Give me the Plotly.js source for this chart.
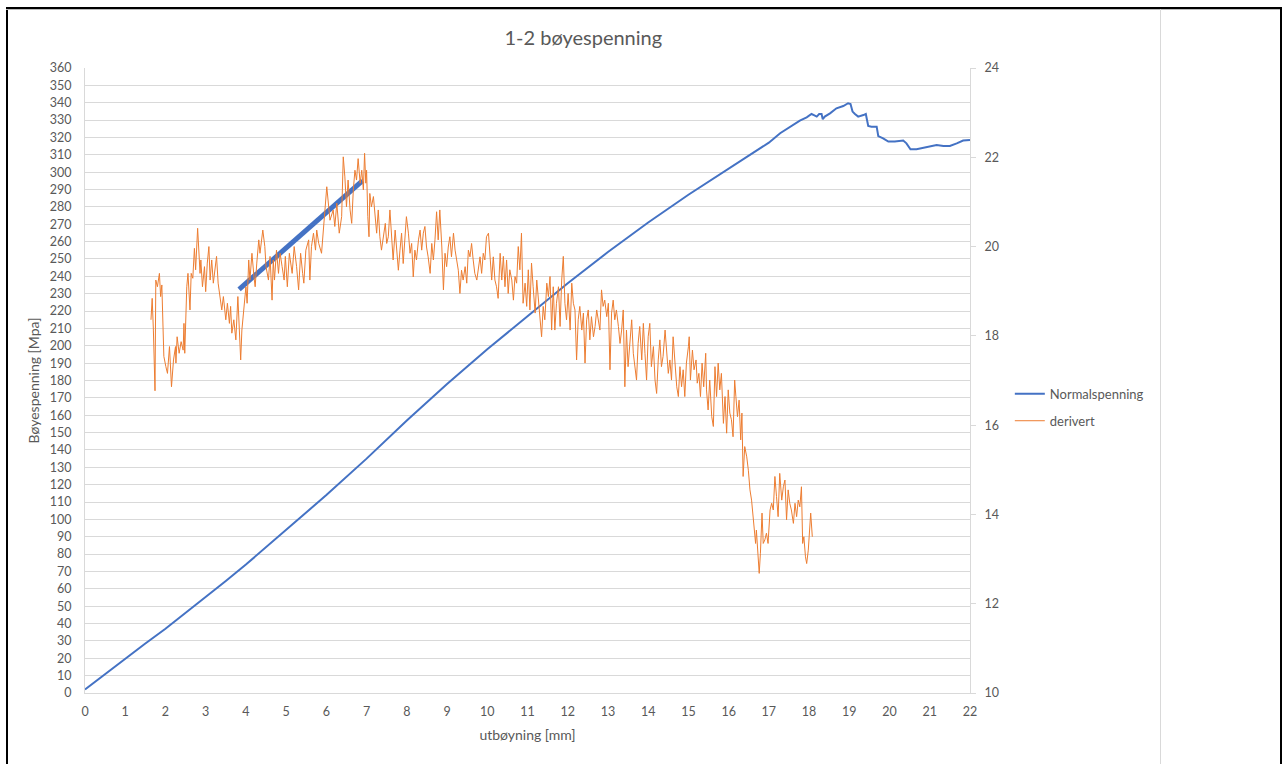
<!DOCTYPE html>
<html>
<head>
<meta charset="utf-8">
<script src="https://cdn.plot.ly/plotly-3.0.1.min.js"></script>
<style>
  html, body { margin:0; padding:0; background:#fff; }
  #wrap { position:relative; width:1282px; height:764px; overflow:hidden; }
  #chart { position:absolute; left:0; top:0; width:1282px; height:764px; }
  .ln { position:absolute; }
</style>
</head>
<body>
<div id="wrap">
  <div id="chart"></div>
  <div class="ln" style="left:6px; top:7px; width:2px; height:757px; background:#000;"></div>
  <div class="ln" style="left:6px; top:7px; width:1276px; height:2px; background:#000;"></div>
  <div class="ln" style="left:6px; top:9px; width:1276px; height:1px; background:#bbb;"></div>
  <div class="ln" style="left:1160px; top:9px; width:1px; height:755px; background:#d9d9d9;"></div>
  <div class="ln" style="left:1280px; top:7px; width:2px; height:757px; background:#000;"></div>
</div>
<script>
// Normalspenning (left axis, MPa) vs utbøyning (mm)
const normX = [0,0.5,1,1.5,2,2.5,3,3.5,4,5,6,7,8,9,10,11,12,13,14,15,16,17,17.28,17.52,17.77,17.94,18.06,18.12,18.19,18.25,18.31,18.34,18.39,18.52,18.68,18.85,18.97,19.03,19.08,19.14,19.22,19.35,19.41,19.47,19.55,19.68,19.72,19.84,19.97,20.13,20.34,20.42,20.52,20.67,20.84,21.00,21.17,21.34,21.50,21.67,21.83,22.00];
const normY = [2,11,20,28.5,37,46,55,64.5,74,94,114,135,157,178,198,217,236,254,271,287,302,317,322.4,325.8,329.7,331.6,333.5,332.8,332,333.5,333.5,330.5,332,333.9,336.8,338.1,339.7,339.3,334.9,333.5,332,332.9,333.5,326.6,326.2,326.2,320.8,319.5,317.6,317.6,318.2,316.6,313.2,313.2,313.9,314.7,315.7,315.1,315.1,316.6,318.2,318.6];

// derivert (right axis)
const derivX = [1.64,1.67,1.70,1.74,1.76,1.80,1.85,1.88,1.91,1.93,1.96,2.01,2.05,2.10,2.15,2.20,2.25,2.26,2.29,2.34,2.39,2.44,2.46,2.48,2.53,2.56,2.61,2.64,2.68,2.72,2.75,2.80,2.83,2.86,2.88,2.92,2.97,3.00,3.04,3.08,3.11,3.15,3.19,3.23,3.27,3.31,3.36,3.40,3.44,3.50,3.54,3.59,3.62,3.65,3.70,3.75,3.80,3.87,3.90,3.95,4.00,4.03,4.07,4.10,4.15,4.20,4.23,4.27,4.32,4.35,4.42,4.47,4.50,4.56,4.60,4.65,4.68,4.71,4.76,4.81,4.85,4.90,4.95,4.98,5.03,5.08,5.15,5.20,5.26,5.31,5.36,5.41,5.44,5.49,5.56,5.59,5.63,5.68,5.73,5.76,5.81,
5.88,6.01,6.09,6.17,6.21,6.26,6.32,6.38,6.42,6.46,6.50,6.54,6.59,6.63,6.67,6.71,6.75,6.79,6.84,6.88,6.92,6.95,6.98,7.00,7.03,7.06,7.08,7.12,7.17,7.21,7.25,7.29,7.33,7.37,7.42,7.465,7.50,7.54,7.58,7.62,7.66,7.71,7.75,7.79,7.83,7.87,7.91,7.95,7.99,8.04,8.08,8.12,8.16,8.20,8.24,8.29,8.33,8.37,8.41,8.45,8.49,8.53,8.58,8.62,8.66,8.70,8.74,8.78,8.82,8.87,8.91,8.95,8.99,9.03,9.07,9.11,9.16,9.20,9.24,9.28,9.32,9.36,9.40,9.45,9.49,9.53,9.57,9.61,9.65,9.69,9.74,9.78,9.82,9.86,9.90,9.94,9.98,10.03,10.07,10.11,10.15,10.19,10.23,10.27,
10.32,10.36,10.40,10.44,10.48,10.52,10.56,10.61,10.65,10.69,10.73,10.77,10.81,10.85,10.89,10.94,10.98,11.02,11.06,11.10,11.14,11.19,11.23,11.27,11.31,11.35,11.39,11.43,11.48,11.52,11.56,11.60,11.64,11.68,11.72,11.77,11.81,11.85,11.89,11.93,11.97,12.01,12.06,12.10,12.14,12.18,12.22,12.26,12.30,12.35,12.39,12.43,12.47,12.51,12.55,12.59,12.64,12.68,12.72,12.76,12.80,12.84,12.88,12.92,12.97,13.01,13.05,13.09,13.13,13.17,13.21,13.26,13.30,13.34,13.38,13.42,13.46,13.50,13.55,13.59,13.63,13.67,13.71,13.75,13.79,13.84,13.88,13.92,13.96,14.00,14.04,14.08,14.13,14.17,14.21,14.25,14.29,14.33,14.37,14.42,14.46,14.50,14.54,14.58,14.62,14.66,14.71,14.75,
14.79,14.83,14.87,14.91,14.95,15.00,15.02,15.05,15.10,15.14,15.19,15.22,15.26,15.30,15.34,15.38,15.43,15.45,15.49,15.53,15.58,15.62,15.66,15.70,15.74,15.78,15.82,15.87,15.91,15.95,15.99,16.03,16.07,16.11,16.15,16.18,16.22,16.26,16.30,16.33,16.36,16.40,16.45,16.49,16.53,16.57,16.61,16.64,16.67,16.69,16.74,16.76,16.79,16.83,16.86,16.90,16.94,16.98,17.03,17.07,17.11,17.15,17.19,17.23,17.27,17.32,17.36,17.40,17.44,17.48,17.52,17.56,17.61,17.65,17.69,17.73,17.77,17.81,17.84,17.87,17.91,17.94,17.98,18.02,18.04,18.08];
const derivY = [18.36,18.84,18.13,16.77,19.25,19.10,19.40,18.88,19.14,18.21,17.54,17.31,17.16,17.76,16.86,17.46,17.76,17.39,17.98,17.61,17.87,17.68,18.28,17.61,19.10,19.40,18.58,19.40,19.29,19.96,19.48,20.41,19.85,19.40,19.70,19.10,19.55,18.99,19.63,20.00,19.25,19.70,19.18,19.55,19.78,19.18,18.80,18.58,18.88,18.36,18.73,18.28,18.66,18.06,18.36,17.91,18.88,17.46,18.13,18.58,19.10,18.73,19.70,19.25,19.85,19.33,19.10,19.63,20.15,19.85,20.37,20.00,19.55,19.25,19.78,18.80,19.70,19.25,19.92,19.40,19.85,19.55,19.25,19.78,19.10,19.85,19.40,20.00,19.55,19.03,19.85,19.40,19.18,19.92,20.15,19.25,20.00,20.30,19.92,20.37,20.07,
19.85,21.34,20.59,20.82,20.45,20.97,20.30,20.67,22.01,21.56,20.89,21.49,20.82,20.52,21.27,21.71,21.49,21.97,21.42,21.71,21.27,22.09,21.42,21.71,20.67,20.22,21.19,20.89,21.12,20.67,20.30,20.82,20.22,19.92,20.30,20.52,20.07,20.22,20.82,20.15,19.70,20.37,19.92,19.47,19.92,20.30,19.62,20.15,20.67,20.30,19.85,20.07,19.32,19.92,19.70,20.15,20.37,19.92,20.30,20.45,19.99,19.77,19.40,20.07,19.70,20.15,20.78,20.15,20.82,19.99,19.03,19.85,19.55,19.99,20.22,19.77,20.30,19.92,19.70,19.47,18.95,19.47,19.25,19.55,19.18,19.92,19.77,20.07,19.70,19.40,19.25,19.55,19.77,19.40,19.85,19.70,20.22,20.30,19.70,19.25,19.77,19.25,19.10,18.84,
19.85,19.25,19.78,19.10,19.70,18.95,19.48,19.25,18.80,19.33,19.18,20.00,19.48,20.30,18.73,19.18,18.66,19.48,18.58,19.63,19.10,18.51,19.25,18.80,18.36,17.98,18.66,18.36,19.18,18.88,19.33,18.13,19.10,18.13,18.73,19.10,18.21,19.25,19.78,18.73,18.36,18.95,18.13,19.18,18.73,18.58,17.46,18.36,18.66,18.13,18.51,17.39,18.36,18.58,17.91,18.43,17.98,18.21,18.58,18.36,18.13,19.03,18.66,18.80,18.43,18.73,17.24,18.51,18.80,18.36,18.58,18.21,17.83,18.13,18.58,16.86,18.13,17.31,17.91,18.36,17.61,17.24,17.01,17.83,18.21,17.46,18.28,17.61,17.01,17.98,18.28,17.31,17.76,17.01,16.71,17.46,17.91,17.31,17.54,18.13,17.61,17.16,17.46,17.01,17.98,17.46,16.86,16.64,
17.31,16.86,17.24,16.64,17.39,17.76,17.98,17.01,17.68,17.24,17.46,16.94,17.16,16.64,17.39,16.86,17.61,16.79,16.34,17.01,16.19,15.97,17.31,16.64,17.39,16.79,17.16,16.04,16.64,15.82,16.79,16.27,16.12,15.74,17.01,16.64,16.19,16.56,15.67,16.27,14.85,15.52,15.29,14.99,14.55,14.32,13.88,13.65,13.35,13.65,12.90,12.68,13.13,14.03,13.35,13.43,13.58,13.35,14.10,14.25,14.10,14.85,14.40,13.95,14.92,14.32,14.62,14.77,13.88,14.55,14.25,14.10,13.80,14.25,13.95,14.32,14.17,14.62,13.35,13.50,13.05,12.90,13.20,13.80,14.03,13.50];

// Drawn trend line (left axis units)
const trendX = [3.83, 6.90];
const trendY = [232.5, 295.1];

const FONT = "Lato, 'Open Sans', 'DejaVu Sans', sans-serif";
const GRAY = "#595959";

const traces = [
  {x: normX, y: normY, type: 'scatter', mode: 'lines', name: 'Normalspenning',
   line: {color: '#4472C4', width: 2}, yaxis: 'y', legendgroup: 'a'},
  {x: derivX, y: derivY, type: 'scatter', mode: 'lines', name: 'derivert',
   line: {color: '#ED7D31', width: 1}, yaxis: 'y2', legendgroup: 'b'},
  {x: trendX, y: trendY, type: 'scatter', mode: 'lines', showlegend: false,
   line: {color: '#4472C4', width: 5}, yaxis: 'y', hoverinfo: 'skip'}
];

const layout = {
  width: 1282, height: 764,
  paper_bgcolor: 'rgba(0,0,0,0)', plot_bgcolor: 'rgba(0,0,0,0)',
  margin: {l: 85, r: 312, t: 68, b: 71},
  font: {family: FONT, size: 12, color: GRAY},
  title: {text: '1-2 bøyespenning', x: 0.455, xanchor: 'center', y: 0.950, yanchor: 'middle',
          font: {family: FONT, size: 20, color: GRAY}},
  xaxis: {range: [0, 22], dtick: 1, tick0: 0, showgrid: false, zeroline: false,
          showline: true, linecolor: '#D9D9D9', linewidth: 1, ticks: '',
          ticklabelstandoff: 7,
          tickfont: {size: 12.5, color: GRAY},
          title: {text: 'utbøyning [mm]', standoff: 12, font: {size: 14, color: GRAY}}},
  yaxis: {range: [0, 360], dtick: 10, tick0: 0, showgrid: true, gridcolor: '#D9D9D9', gridwidth: 1,
          zeroline: false, showline: true, linecolor: '#D9D9D9', ticks: '',
          ticklabelstandoff: 10,
          tickfont: {size: 12.5, color: GRAY},
          title: {text: 'Bøyespenning [Mpa]', standoff: 6, font: {size: 14, color: GRAY}}},
  yaxis2: {range: [10, 24], dtick: 2, tick0: 10, overlaying: 'y', side: 'right',
           showgrid: false, zeroline: false, showline: true, linecolor: '#D9D9D9',
           ticks: 'outside', ticklen: 5, tickcolor: '#D9D9D9',
           ticklabelstandoff: 6,
           tickfont: {size: 12.5, color: GRAY}},
  showlegend: true,
  legend: {x: 1.045, xanchor: 'left', y: 0.457, yanchor: 'middle', bgcolor: 'rgba(0,0,0,0)',
           font: {size: 13, color: GRAY}, tracegroupgap: 7, traceorder: 'grouped'}
};

Plotly.newPlot('chart', traces, layout, {displayModeBar: false, staticPlot: true});
</script>
</body>
</html>
